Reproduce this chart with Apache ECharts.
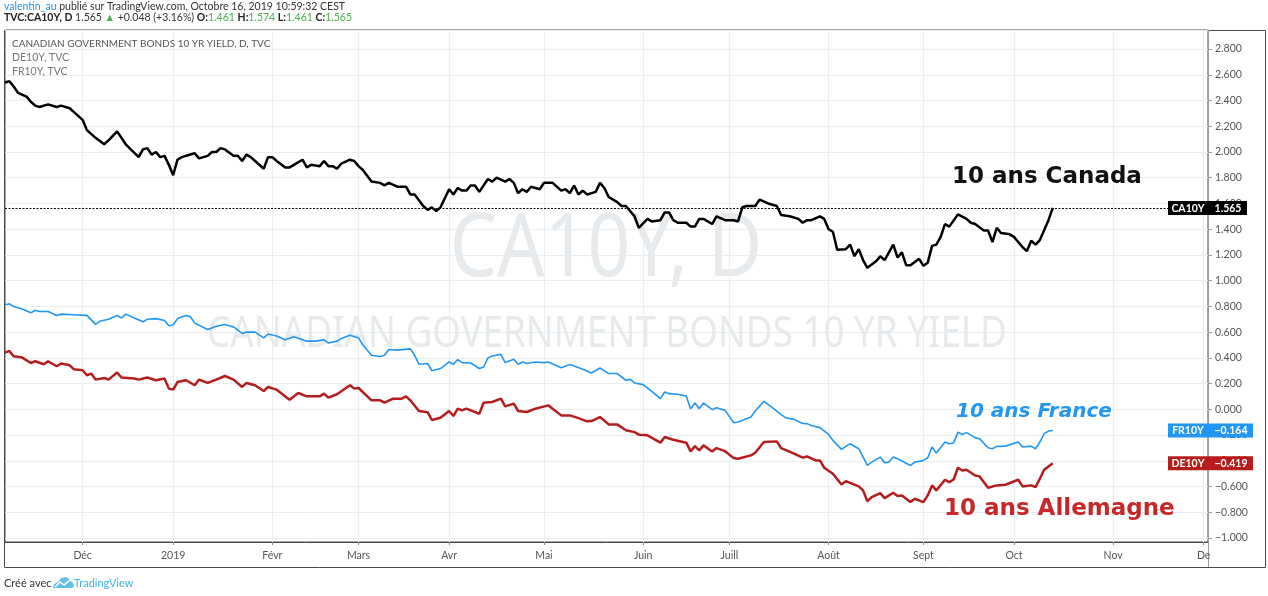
<!DOCTYPE html>
<html>
<head>
<meta charset="utf-8">
<script src="https://cdn.jsdelivr.net/npm/echarts@6/dist/echarts.min.js"></script>
<style>
html,body{margin:0;padding:0;background:#fff;}
#c{width:1268px;height:596px;}
</style>
</head>
<body>
<div id="c"></div>
<script>
// ---- categories: trading days (weekdays) shown on the time scale ----
const categories = [];
(function () {
  const d = new Date(Date.UTC(2018, 10, 7));
  const end = Date.UTC(2019, 11, 3);
  while (d.getTime() <= end) {
    const wd = d.getUTCDay();
    if (wd !== 0 && wd !== 6) categories.push(d.toISOString().slice(0, 10));
    d.setUTCDate(d.getUTCDate() + 1);
  }
})();

// month tick labels (French, TradingView style)
const monthLabels = {
  '2018-12': 'Déc', '2019-01': '2019', '2019-02': 'Févr', '2019-03': 'Mars',
  '2019-04': 'Avr', '2019-05': 'Mai', '2019-06': 'Juin', '2019-07': 'Juill',
  '2019-08': 'Août', '2019-09': 'Sept', '2019-10': 'Oct', '2019-11': 'Nov', '2019-12': 'De'
};

// ---- series values: [trading-day index, yield %] ----
const ca10y = [
  [0,2.54],[1,2.55],[2,2.51],[3,2.46],[5,2.43],[6,2.39],[7,2.36],[8,2.35],[10,2.37],[12,2.35],
  [13,2.36],[15,2.34],[16,2.31],[18,2.25],[19,2.17],[21,2.11],[23,2.06],[24,2.09],[26,2.16],[28,2.06],
  [31,1.96],[32,2.02],[33,2.03],[34,1.98],[35,2.00],[36,1.96],[37,1.97],[38,1.90],[39,1.82],[40,1.94],
  [41,1.96],[43,1.98],[44,1.99],[45,1.95],[47,1.97],[48,2.00],[49,2.00],[50,2.03],[51,2.02],[53,1.97],
  [54,1.97],[55,1.93],[56,1.98],[57,1.96],[58,1.93],[60,1.87],[61,1.96],[62,1.96],[63,1.93],[65,1.88],
  [66,1.88],[67,1.90],[69,1.94],[70,1.88],[71,1.90],[73,1.89],[74,1.93],[75,1.89],[76,1.89],[77,1.87],
  [78,1.91],[80,1.94],[81,1.93],[82,1.89],[83,1.86],[85,1.77],[87,1.76],[88,1.74],[89,1.76],[91,1.73],
  [93,1.73],[94,1.67],[95,1.67],[97,1.58],[98,1.55],[99,1.57],[100,1.54],[101,1.57],[103,1.71],[104,1.67],
  [105,1.72],[106,1.70],[107,1.70],[108,1.74],[109,1.74],[110,1.69],[112,1.79],[113,1.77],[114,1.80],[116,1.77],
  [117,1.79],[118,1.76],[119,1.68],[120,1.71],[121,1.69],[122,1.73],[124,1.71],[125,1.76],[127,1.76],[129,1.70],
  [130,1.71],[131,1.68],[132,1.74],[133,1.67],[134,1.70],[135,1.67],[137,1.69],[138,1.76],[139,1.72],[140,1.65],
  [142,1.61],[143,1.58],[144,1.58],[146,1.50],[147,1.41],[149,1.48],[150,1.46],[152,1.47],[153,1.53],[154,1.53],
  [155,1.47],[156,1.45],[158,1.45],[159,1.42],[160,1.42],[161,1.48],[162,1.48],[164,1.44],[165,1.50],[167,1.47],
  [169,1.47],[170,1.46],[171,1.57],[172,1.58],[174,1.58],[175,1.63],[177,1.60],[179,1.58],[180,1.51],[182,1.50],
  [184,1.48],[185,1.45],[186,1.47],[187,1.47],[189,1.50],[190,1.48],[191,1.40],[192,1.38],[193,1.24],[195,1.245],
  [196,1.28],[197,1.19],[198,1.245],[199,1.16],[200,1.10],[202,1.15],[203,1.19],[204,1.16],[206,1.28],[207,1.18],
  [208,1.22],[209,1.12],[210,1.12],[212,1.17],[213,1.115],[214,1.14],[215,1.27],[216,1.28],[217,1.34],[218,1.44],
  [219,1.42],[221,1.515],[223,1.48],[224,1.45],[225,1.44],[227,1.39],[228,1.39],[229,1.30],[230,1.41],[231,1.37],
  [233,1.36],[234,1.34],[236,1.26],[237,1.23],[238,1.31],[239,1.28],[240,1.315],[242,1.47],[243,1.565]
];

const fr10y = [
  [0,0.81],[1,0.82],[2,0.80],[4,0.78],[6,0.75],[7,0.77],[8,0.76],[10,0.76],[12,0.73],[13,0.74],
  [16,0.735],[19,0.73],[21,0.66],[22,0.685],[24,0.70],[26,0.73],[27,0.71],[28,0.74],[30,0.71],[32,0.68],
  [33,0.70],[35,0.705],[37,0.69],[38,0.65],[39,0.655],[40,0.705],[42,0.73],[43,0.72],[44,0.67],[47,0.62],
  [49,0.645],[51,0.66],[53,0.64],[55,0.59],[56,0.60],[58,0.60],[60,0.555],[61,0.585],[63,0.57],[65,0.54],
  [67,0.565],[70,0.53],[72,0.53],[74,0.54],[75,0.515],[77,0.53],[78,0.55],[80,0.575],[82,0.555],[83,0.50],
  [85,0.42],[87,0.41],[88,0.42],[89,0.465],[91,0.46],[94,0.47],[95,0.42],[96,0.35],[98,0.356],[99,0.30],
  [101,0.317],[103,0.368],[104,0.35],[105,0.387],[106,0.363],[108,0.36],[110,0.317],[111,0.329],[112,0.40],[113,0.415],
  [115,0.428],[116,0.363],[118,0.389],[119,0.35],[120,0.368],[121,0.356],[123,0.368],[125,0.363],[126,0.368],[129,0.324],
  [131,0.348],[132,0.337],[134,0.311],[136,0.282],[138,0.321],[140,0.278],[142,0.278],[144,0.226],[145,0.233],[146,0.205],
  [148,0.192],[150,0.14],[152,0.083],[153,0.135],[154,0.122],[156,0.117],[158,0.104],[159,0.005],[160,0.049],[161,0.005],
  [162,0.049],[164,-0.003],[165,0.013],[167,-0.008],[169,-0.104],[170,-0.099],[173,-0.06],[174,-0.013],[176,0.062],[178,0.013],
  [180,-0.041],[181,-0.065],[183,-0.078],[185,-0.11],[186,-0.111],[187,-0.125],[189,-0.142],[191,-0.195],[192,-0.241],[194,-0.311],
  [196,-0.267],[198,-0.306],[200,-0.436],[201,-0.41],[203,-0.371],[204,-0.415],[205,-0.41],[206,-0.371],[207,-0.384],[208,-0.402],
  [210,-0.436],[211,-0.41],[213,-0.397],[214,-0.376],[215,-0.293],[216,-0.34],[218,-0.254],[219,-0.267],[220,-0.262],[221,-0.177],
  [222,-0.195],[223,-0.181],[225,-0.22],[226,-0.228],[228,-0.298],[229,-0.306],[230,-0.288],[232,-0.286],[235,-0.254],[236,-0.293],
  [238,-0.286],[239,-0.306],[240,-0.254],[241,-0.189],[242,-0.169],[243,-0.164]
];

const de10y = [
  [0,0.441],[1,0.454],[2,0.412],[4,0.402],[6,0.36],[7,0.374],[9,0.35],[10,0.374],[12,0.335],[13,0.356],
  [15,0.342],[16,0.311],[18,0.304],[19,0.265],[20,0.278],[21,0.231],[23,0.244],[24,0.231],[26,0.286],[27,0.247],
  [30,0.239],[31,0.231],[33,0.247],[35,0.226],[37,0.239],[38,0.161],[39,0.153],[40,0.212],[42,0.226],[44,0.187],
  [45,0.231],[47,0.205],[49,0.231],[51,0.259],[53,0.231],[55,0.174],[56,0.205],[58,0.187],[60,0.142],[61,0.174],
  [63,0.153],[66,0.075],[68,0.127],[70,0.101],[73,0.101],[74,0.122],[75,0.091],[77,0.117],[80,0.187],[81,0.161],
  [82,0.166],[85,0.07],[87,0.07],[88,0.052],[90,0.083],[92,0.083],[93,0.101],[94,0.07],[96,-0.013],[98,-0.022],
  [99,-0.083],[101,-0.065],[103,-0.013],[104,-0.052],[105,0.005],[106,-0.008],[107,0.005],[110,-0.034],[111,0.052],[113,0.057],
  [115,0.083],[116,0.023],[118,0.044],[119,-0.013],[121,-0.021],[123,0.005],[126,0.031],[127,0.005],[129,-0.047],[131,-0.047],
  [133,-0.068],[135,-0.093],[136,-0.091],[138,-0.06],[140,-0.117],[142,-0.117],[144,-0.163],[146,-0.177],[147,-0.197],[149,-0.202],
  [152,-0.259],[153,-0.215],[155,-0.236],[158,-0.259],[159,-0.327],[160,-0.286],[161,-0.319],[162,-0.28],[164,-0.327],[165,-0.301],
  [167,-0.325],[169,-0.379],[170,-0.384],[173,-0.358],[174,-0.337],[176,-0.254],[179,-0.249],[180,-0.301],[183,-0.345],[185,-0.375],
  [186,-0.366],[188,-0.397],[189,-0.397],[190,-0.454],[192,-0.50],[194,-0.584],[195,-0.558],[198,-0.599],[199,-0.63],[200,-0.714],
  [201,-0.682],[203,-0.651],[204,-0.69],[206,-0.648],[207,-0.674],[208,-0.669],[210,-0.721],[211,-0.695],[213,-0.721],[214,-0.669],
  [215,-0.591],[216,-0.63],[218,-0.547],[219,-0.566],[220,-0.545],[221,-0.454],[222,-0.475],[223,-0.469],[225,-0.514],[226,-0.521],
  [228,-0.609],[230,-0.591],[232,-0.586],[235,-0.547],[236,-0.599],[238,-0.591],[239,-0.605],[240,-0.539],[241,-0.469],[243,-0.419]
];

const seriesNames = ['CA10Y', 'FR10Y', 'DE10Y'];
const seriesColors = ['#000000', '#2196f3', '#b71c1c'];

// ---- helpers ----
const UI_FONT = 'Lato, "Liberation Sans", sans-serif';
function fmtNum(v) { return (v < 0 ? '\u2212' : '') + Math.abs(v).toFixed(3); }
function isMonthStart(i) {
  return i > 0 && categories[i].slice(0, 7) !== categories[i - 1].slice(0, 7);
}
function lastVal(arr) { return arr[arr.length - 1][1]; }
const lastCat = categories[categories.length - 1];

function priceTag(name, value, color) {
  const wn = 40, wv = value < 0 ? 45 : 39;
  return {
    symbol: 'rect', symbolSize: 1, silent: true,
    itemStyle: { color: 'rgba(0,0,0,0)' },
    label: {
      show: true, position: 'inside', offset: [(wv - wn) / 2, 0],
      formatter: '{n|' + name + '}{v|' + fmtNum(value) + '}',
      rich: {
        n: { backgroundColor: color, color: '#fff', width: wn - 4, height: 13, lineHeight: 14, padding: [1, 2, 0, 2], align: 'center', fontSize: 10.5, fontWeight: 'bold', fontFamily: UI_FONT },
        v: { backgroundColor: color, color: '#fff', width: wv - 5, height: 13, lineHeight: 14, padding: [1, 2, 0, 3], align: 'center', fontSize: 10.5, fontWeight: 'bold', fontFamily: UI_FONT }
      }
    },
    data: [{ coord: [lastCat, value] }]
  };
}

const chart = echarts.init(document.getElementById('c'), null, { renderer: 'canvas' });

const option = {
  animation: false,
  backgroundColor: '#ffffff',
  grid: { left: 5, right: 60, top: 30, bottom: 54, show: true, borderColor: '#4a4a4a', borderWidth: 1 },
  xAxis: {
    type: 'category',
    data: categories,
    boundaryGap: false,
    axisLine: { show: true, onZero: false, lineStyle: { color: '#4a4a4a' } },
    axisTick: { show: true, length: 3, interval: (i) => isMonthStart(i), lineStyle: { color: '#888' } },
    axisLabel: {
      interval: (i) => isMonthStart(i),
      formatter: (v) => monthLabels[v.slice(0, 7)] || '',
      color: '#555', fontSize: 10.5, fontFamily: UI_FONT, margin: 8
    },
    splitLine: { show: true, interval: (i) => isMonthStart(i), lineStyle: { color: '#e9eef2', width: 1 } }
  },
  yAxis: {
    type: 'value',
    position: 'right',
    min: -1.031, max: 2.948,
    splitNumber: 20, minInterval: 0.2, maxInterval: 0.2,
    axisLine: { show: true, lineStyle: { color: '#9a9da5' } },
    axisTick: { show: true, length: 4, lineStyle: { color: '#9a9da5' } },
    axisLabel: {
      color: '#555', fontSize: 10.5, fontFamily: UI_FONT, margin: 7,
      showMinLabel: false, showMaxLabel: false,
      formatter: fmtNum
    },
    splitLine: { show: true, lineStyle: { color: '#e9eef2', width: 1 } }
  },
  series: [
    {
      name: seriesNames[0], type: 'line', data: ca10y, showSymbol: false, symbol: 'none', z: 5,
      lineStyle: { color: seriesColors[0], width: 2.5 },
      markLine: {
        silent: true, symbol: 'none', label: { show: false },
        lineStyle: { color: '#000', width: 1, type: [2, 1.5] },
        data: [{ yAxis: lastVal(ca10y) }]
      },
      markPoint: priceTag(seriesNames[0], lastVal(ca10y), seriesColors[0])
    },
    {
      name: seriesNames[1], type: 'line', data: fr10y, showSymbol: false, symbol: 'none', z: 4,
      lineStyle: { color: seriesColors[1], width: 1.6 },
      markPoint: priceTag(seriesNames[1], lastVal(fr10y), seriesColors[1])
    },
    {
      name: seriesNames[2], type: 'line', data: de10y, showSymbol: false, symbol: 'none', z: 4,
      lineStyle: { color: seriesColors[2], width: 2.5 },
      markPoint: priceTag(seriesNames[2], lastVal(de10y), seriesColors[2])
    }
  ],
  graphic: [
    // outer frame of the chart (with axis strips)
    { type: 'rect', z: 0, silent: true, shape: { x: 4.5, y: 30.5, width: 1261, height: 537 },
      style: { fill: 'rgba(0,0,0,0)', stroke: '#4a4a4a', lineWidth: 1 } },
    // price-scale separator continuing through the time-scale strip
    { type: 'line', z: 0, silent: true, shape: { x1: 1208.5, y1: 542, x2: 1208.5, y2: 567 },
      style: { stroke: '#9a9da5', lineWidth: 1 } },
    // watermark
    { type: 'text', z: 1, silent: true, x: 606, y: 251, scaleX: 0.85,
      style: { text: 'CA10Y, D', font: '88px "Noto Sans", sans-serif', fill: '#e6eaec', textAlign: 'center', textVerticalAlign: 'middle' } },
    { type: 'text', z: 1, silent: true, x: 607, y: 334, scaleX: 0.835,
      style: { text: 'CANADIAN GOVERNMENT BONDS 10 YR YIELD', font: '44px "Noto Sans", sans-serif', fill: '#e6eaec', textAlign: 'center', textVerticalAlign: 'middle' } },
    // header
    { type: 'text', z: 10, silent: true, x: 4, y: 7,
      style: { text: '{u|valentin_au} publié sur TradingView.com, Octobre 16, 2019 10:59:32 CEST',
        font: '10.5px ' + UI_FONT, fill: '#333', textVerticalAlign: 'middle',
        rich: { u: { fill: '#2196f3', font: '10.5px ' + UI_FONT } } } },
    { type: 'text', z: 10, silent: true, x: 4, y: 18,
      style: { text: '{b|TVC:CA10Y, D} ' + fmtNum(lastVal(ca10y)) + ' {g|\u25B2} +0.048 (+3.16%) {b|O:}{g|1.461} {b|H:}{g|1.574} {b|L:}{g|1.461} {b|C:}{g|' + fmtNum(lastVal(ca10y)) + '}',
        font: '10.5px ' + UI_FONT, fill: '#333', textVerticalAlign: 'middle',
        rich: { b: { fill: '#222', font: 'bold 10.5px ' + UI_FONT }, g: { fill: '#4caf50', font: '10.5px ' + UI_FONT } } } },
    // legend lines
    { type: 'text', z: 10, silent: true, x: 12, y: 44,
      style: { text: 'CANADIAN GOVERNMENT BONDS 10 YR YIELD, D, TVC', font: '10px ' + UI_FONT, fill: '#555', textVerticalAlign: 'middle' } },
    { type: 'text', z: 10, silent: true, x: 12, y: 58,
      style: { text: 'DE10Y, TVC', font: '10.5px ' + UI_FONT, fill: '#777', textVerticalAlign: 'middle' } },
    { type: 'text', z: 10, silent: true, x: 12, y: 72,
      style: { text: 'FR10Y, TVC', font: '10.5px ' + UI_FONT, fill: '#777', textVerticalAlign: 'middle' } },
    // annotations
    { type: 'text', z: 20, silent: true, x: 952, y: 177,
      style: { text: '10 ans Canada', font: 'bold 23px "DejaVu Sans", sans-serif', fill: '#111', textVerticalAlign: 'middle' } },
    { type: 'text', z: 20, silent: true, x: 956, y: 412,
      style: { text: '10 ans France', font: 'italic bold 20px "DejaVu Sans", sans-serif', fill: '#2196f3', textVerticalAlign: 'middle' } },
    { type: 'text', z: 20, silent: true, x: 944, y: 509,
      style: { text: '10 ans Allemagne', font: 'bold 23px "DejaVu Sans", sans-serif', fill: '#c62828', textVerticalAlign: 'middle' } },
    // footer
    { type: 'text', z: 10, silent: true, x: 4, y: 583,
      style: { text: 'Créé avec', font: '11px ' + UI_FONT, fill: '#333', textVerticalAlign: 'middle' } },
    { type: 'polygon', z: 10, silent: true, x: 53, y: 576,
      shape: { points: [[0, 12], [1, 8], [5, 6], [8, 2], [13, 1], [16, 3], [19, 6], [21, 9], [20, 12]] },
      style: { fill: '#63bfea' } },
    { type: 'polyline', z: 11, silent: true, x: 53, y: 576,
      shape: { points: [[2, 11], [7, 6], [11, 9], [17, 4]] },
      style: { stroke: '#ffffff', lineWidth: 1.5, fill: 'rgba(0,0,0,0)' } },
    { type: 'text', z: 10, silent: true, x: 74, y: 583,
      style: { text: 'TradingView', font: '11px ' + UI_FONT, fill: '#3bb3e4', textVerticalAlign: 'middle' } }
  ]
};

chart.setOption(option);
</script>
</body>
</html>
